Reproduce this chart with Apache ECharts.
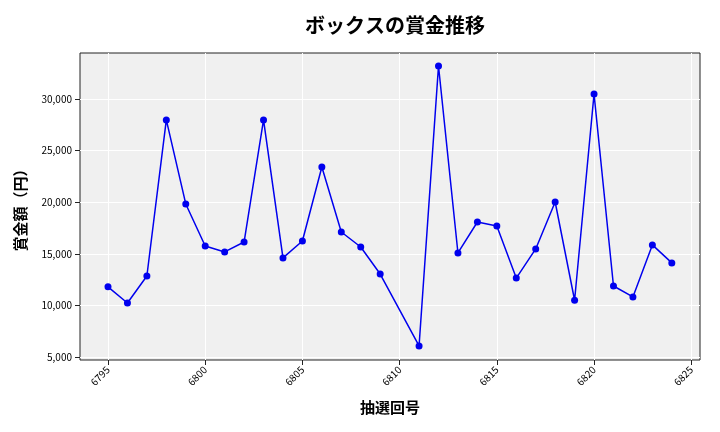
<!DOCTYPE html><html><head><meta charset="utf-8"><script src="https://cdn.jsdelivr.net/npm/echarts@6/dist/echarts.min.js"></script></head><body style="margin:0"><div id="c" style="width:720px;height:432px"></div><script>
const draws=[6795,6796,6797,6798,6799,6800,6801,6802,6803,6804,6805,6806,6807,6808,6809,6811,6812,6813,6814,6815,6816,6817,6818,6819,6820,6821,6822,6823,6824];
const prizes=[11800,10230,12850,27970,19830,15760,15180,16140,27970,14600,16240,23410,17110,15660,13040,6070,33200,15080,18080,17690,12650,15470,20020,10500,30480,11880,10820,15860,14120];
const xTicks=[6795,6800,6805,6810,6815,6820,6825];
const yTicks=[5000,10000,15000,20000,25000,30000];
const f="'Noto Sans CJK JP',sans-serif";
const ch=echarts.init(document.getElementById('c'));
ch.setOption({
title:{text:'ボックスの賞金推移',left:390,textAlign:'center',top:10,textStyle:{fontFamily:f,fontSize:20,fontWeight:'bold',color:'#000'}},
grid:{left:80,right:20,top:53,bottom:72,show:true,backgroundColor:'#f0f0f0',borderColor:'#222',borderWidth:1},
xAxis:{type:'value',min:6793.56,max:6825.45,name:'抽選回号',nameLocation:'middle',nameGap:40,nameTextStyle:{fontFamily:f,fontSize:15,fontWeight:'bold',color:'#000'},
axisLine:{show:false},axisTick:{show:true,customValues:xTicks,lineStyle:{color:'#222'}},axisLabel:{customValues:xTicks,rotate:45,fontSize:10,color:'#000',fontFamily:f,formatter:v=>String(v)},splitLine:{show:true,lineStyle:{color:'#fff',width:1}}},
yAxis:{type:'value',min:4709,max:34457,name:'賞金額（円）',nameLocation:'middle',nameGap:52,nameTextStyle:{fontFamily:f,fontSize:15,fontWeight:'bold',color:'#000'},
axisLine:{show:false},axisTick:{show:true,customValues:yTicks,lineStyle:{color:'#222'}},axisLabel:{customValues:yTicks,fontSize:10,color:'#000',fontFamily:f,formatter:v=>v.toLocaleString('en-US')},splitLine:{show:true,lineStyle:{color:'#fff',width:1}}},
series:[{type:'line',data:draws.map((d,i)=>[d,prizes[i]]),symbol:'circle',symbolSize:7,itemStyle:{color:'#0000ee'},lineStyle:{color:'#0000ee',width:1.5},animation:false}]
});
</script></body></html>
